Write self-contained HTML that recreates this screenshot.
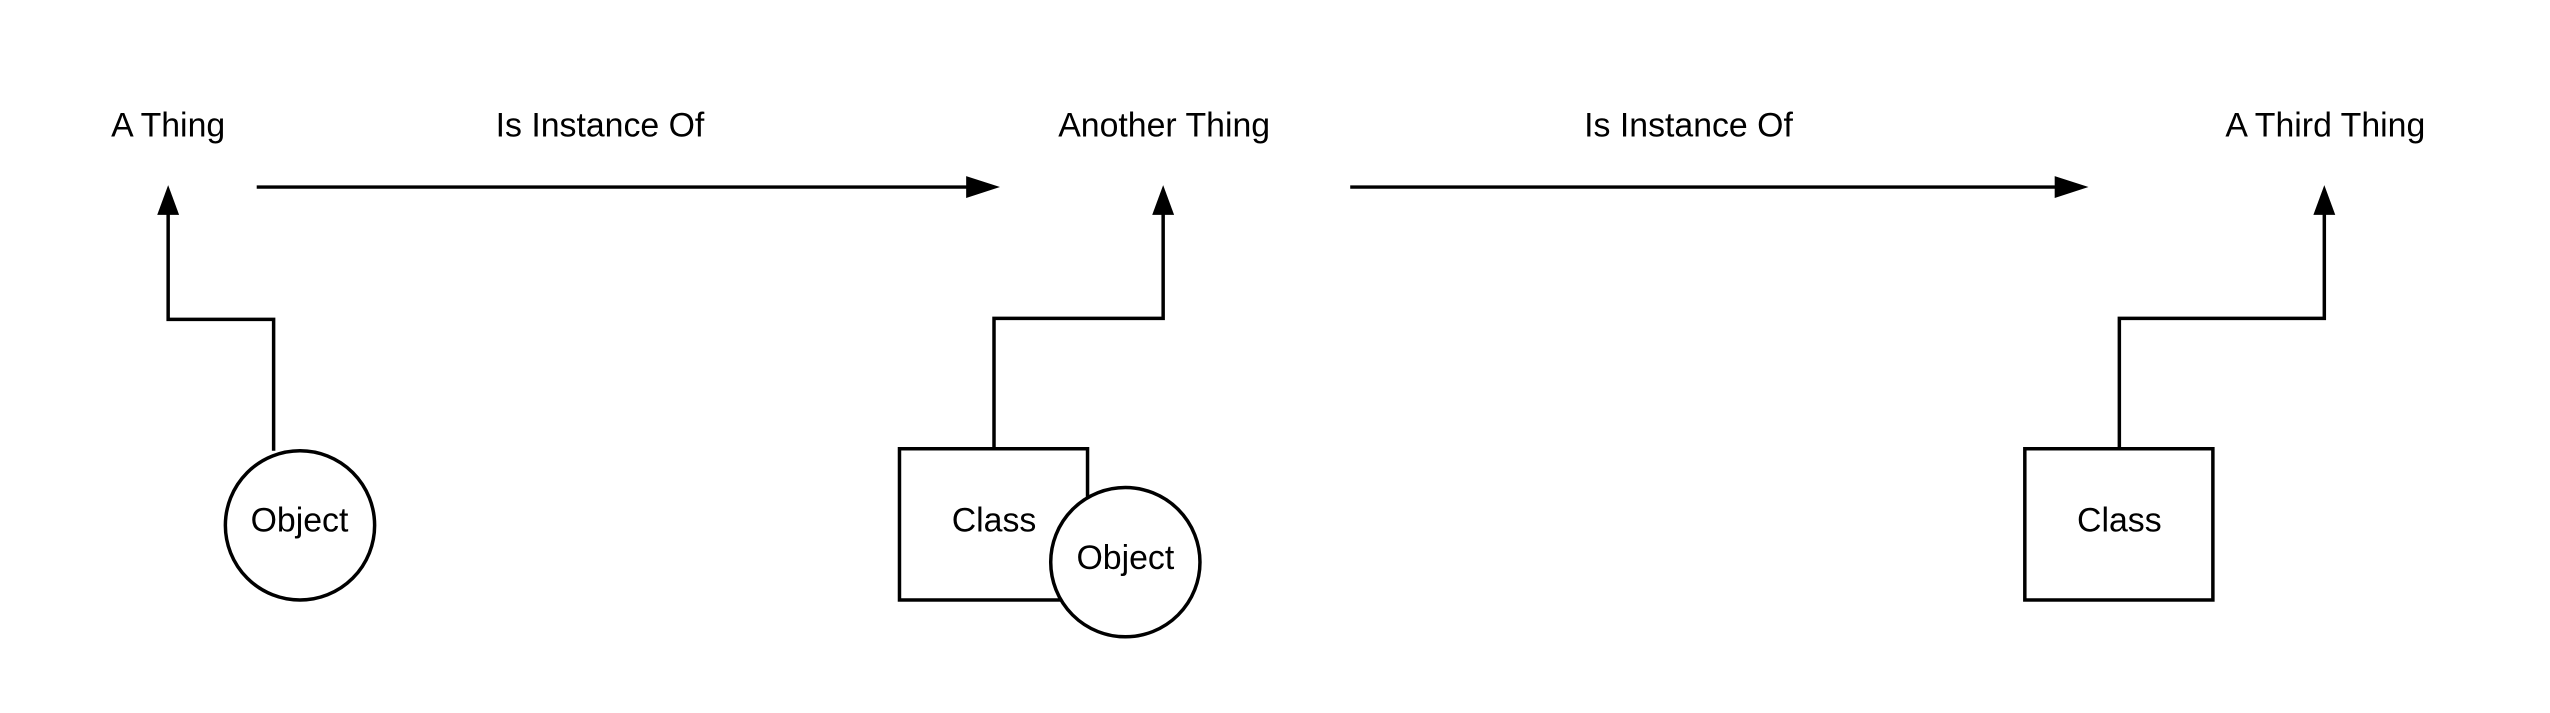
<!DOCTYPE html>
<html><head><meta charset="utf-8"><style>
html,body{margin:0;padding:0;background:#fff;}
svg{display:block;}
text{font-family:"Liberation Sans",sans-serif;font-size:34px;fill:#000;text-anchor:middle;dominant-baseline:central;}
</style></head><body>
<svg width="2550" height="713" viewBox="0 0 2550 713" xmlns="http://www.w3.org/2000/svg">
<g transform="scale(0.995)">
<g fill="none" stroke="#000" stroke-width="3.5">
<polyline points="275,453 275,321 169,321 169,210"/>
<line x1="258" y1="188" x2="975" y2="188"/>
<polyline points="999,451 999,320 1169,320 1169,210"/>
<line x1="1357" y1="188" x2="2069" y2="188"/>
<polyline points="2130,451 2130,320 2336,320 2336,210"/>
<circle cx="301.5" cy="528" r="75" fill="#fff"/>
<rect x="904" y="451" width="189" height="152" fill="#fff"/>
<circle cx="1131" cy="565" r="75" fill="#fff"/>
<rect x="2035" y="451" width="189" height="152" fill="#fff"/>
</g>
<g fill="#000">
<polygon points="169,186 158,216 180,216"/>
<polygon points="1169,186 1158,216 1180,216"/>
<polygon points="2336,186 2325,216 2347,216"/>
<polygon points="1005,188 971,177 971,199"/>
<polygon points="2099,188 2065,177 2065,199"/>
</g>
<text x="169" y="126">A Thing</text>
<text x="603" y="126">Is Instance Of</text>
<text x="1170" y="126">Another Thing</text>
<text x="1697" y="126">Is Instance Of</text>
<text x="2337" y="126">A Third Thing</text>
<text x="301" y="523">Object</text>
<text x="999" y="523">Class</text>
<text x="1131" y="561">Object</text>
<text x="2130" y="523">Class</text>
</g>
</svg>
</body></html>
